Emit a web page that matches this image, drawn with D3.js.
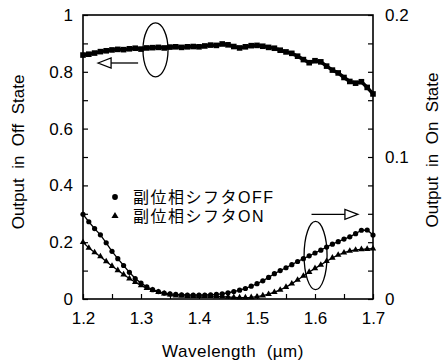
<!DOCTYPE html>
<html>
<head>
<meta charset="utf-8">
<script src="https://cdn.jsdelivr.net/npm/d3@7"></script>
<style>
  body { margin: 0; background: #fff; }
  svg { display: block; font-family: "Liberation Sans", Arial, "Noto Sans CJK JP", sans-serif; }
  text { white-space: pre; }
</style>
</head>
<body>
<svg id="chart" width="446" height="362"></svg>
<script>
// wavelength (um), one sample every 0.01
var wavelength = [1.20, 1.21, 1.22, 1.23, 1.24, 1.25, 1.26, 1.27, 1.28, 1.29,
                  1.30, 1.31, 1.32, 1.33, 1.34, 1.35, 1.36, 1.37, 1.38, 1.39,
                  1.40, 1.41, 1.42, 1.43, 1.44, 1.45, 1.46, 1.47, 1.48, 1.49,
                  1.50, 1.51, 1.52, 1.53, 1.54, 1.55, 1.56, 1.57, 1.58, 1.59,
                  1.60, 1.61, 1.62, 1.63, 1.64, 1.65, 1.66, 1.67, 1.68, 1.69, 1.70];

// output in off state (left axis)
var offState = [0.859, 0.862, 0.866, 0.871, 0.874, 0.877, 0.879, 0.878, 0.881, 0.883,
                0.880, 0.884, 0.885, 0.886, 0.884, 0.887, 0.888, 0.886, 0.888, 0.889,
                0.888, 0.891, 0.894, 0.893, 0.898, 0.895, 0.889, 0.884, 0.888, 0.892,
                0.893, 0.890, 0.886, 0.883, 0.876, 0.870, 0.865, 0.855, 0.843, 0.832,
                0.839, 0.835, 0.820, 0.806, 0.796, 0.780, 0.766, 0.760, 0.765, 0.745, 0.722];

// output in on state, shifter OFF (right axis, circles)
var onShifterOff = [0.0596, 0.0544, 0.0496, 0.0452, 0.0396, 0.0336, 0.0284, 0.0236, 0.0188, 0.0144,
                    0.0112, 0.0086, 0.0066, 0.0052, 0.0042, 0.0036, 0.0032, 0.0030, 0.0028, 0.0028,
                    0.0028, 0.0028, 0.0030, 0.0032, 0.0036, 0.0044, 0.0052, 0.0062, 0.0074, 0.0090,
                    0.0108, 0.0128, 0.0152, 0.0178, 0.0200, 0.0220, 0.0242, 0.0264, 0.0284, 0.0304,
                    0.0324, 0.0344, 0.0366, 0.0386, 0.0404, 0.0422, 0.0438, 0.0460, 0.0484, 0.0486, 0.0450];

// output in on state, shifter ON (right axis, triangles)
var onShifterOn = [0.0400, 0.0360, 0.0328, 0.0300, 0.0264, 0.0232, 0.0202, 0.0172, 0.0144, 0.0118,
                   0.0096, 0.0076, 0.0062, 0.0048, 0.0038, 0.0030, 0.0024, 0.0022, 0.0020, 0.0020,
                   0.0020, 0.0020, 0.0020, 0.0018, 0.0016, 0.0014, 0.0012, 0.0010, 0.0010, 0.0012,
                   0.0016, 0.0024, 0.0034, 0.0048, 0.0064, 0.0084, 0.0108, 0.0134, 0.0162, 0.0190,
                   0.0216, 0.0240, 0.0266, 0.0290, 0.0310, 0.0326, 0.0338, 0.0346, 0.0350, 0.0352, 0.0354];

var xTicks = [1.2, 1.25, 1.3, 1.35, 1.4, 1.45, 1.5, 1.55, 1.6, 1.65, 1.7];
var xLabels = [1.2, 1.3, 1.4, 1.5, 1.6, 1.7];
var yLeftTicks = [0, 0.1, 0.2, 0.3, 0.4, 0.5, 0.6, 0.7, 0.8, 0.9, 1];
var yLeftLabels = [0, 0.2, 0.4, 0.6, 0.8, 1];
var yRightTicks = [0, 0.02, 0.04, 0.06, 0.08, 0.1, 0.12, 0.14, 0.16, 0.18, 0.2];
var yRightLabels = [0, 0.1, 0.2];
var legendNames = ["副位相シフタOFF", "副位相シフタON"];

var svg = d3.select("#chart"),
    margin = { top: 15, right: 73, bottom: 63, left: 83 },
    width = +svg.attr("width") - margin.left - margin.right,
    height = +svg.attr("height") - margin.top - margin.bottom,
    g = svg.append("g").attr("transform", "translate(" + margin.left + "," + margin.top + ")");

var x = d3.scaleLinear().domain([1.2, 1.7]).range([0, width]);
var yL = d3.scaleLinear().domain([0, 1]).range([height, 0]);
var yR = d3.scaleLinear().domain([0, 0.2]).range([height, 0]);

function isIn(list) {
    return function (v) { return list.some(function (l) { return Math.abs(l - v) < 1e-9; }); };
}

// axes, ticks point inward
var bottom = g.append("g")
    .attr("transform", "translate(0," + height + ")")
    .call(d3.axisBottom(x).tickValues(xTicks).tickSizeInner(-5).tickSizeOuter(0).tickPadding(13)
        .tickFormat(function (d) { return isIn(xLabels)(d) ? d3.format(".1f")(d) : ""; }));

var left = g.append("g")
    .call(d3.axisLeft(yL).tickValues(yLeftTicks).tickSizeInner(-5).tickSizeOuter(0).tickPadding(10)
        .tickFormat(function (d) { return isIn(yLeftLabels)(d) ? d3.format("")(d) : ""; }));

var right = g.append("g")
    .attr("transform", "translate(" + width + ",0)")
    .call(d3.axisRight(yR).tickValues(yRightTicks).tickSizeInner(-5).tickSizeOuter(0).tickPadding(12)
        .tickFormat(function (d) { return isIn(yRightLabels)(d) ? d3.format("")(d) : ""; }));

[bottom, left, right].forEach(function (a) {
    a.select(".domain").remove();
    a.selectAll("line").attr("stroke", "#000").attr("stroke-width", 1.2);
    a.selectAll("text").attr("font-size", 17).attr("fill", "#000")
        .attr("font-family", "'Liberation Sans', Arial, sans-serif");
});

g.append("rect")
    .attr("width", width)
    .attr("height", height)
    .attr("fill", "none")
    .attr("stroke", "#000")
    .attr("stroke-width", 1.6);

// curves
var rows = wavelength.map(function (w, i) {
    return { w: w, off: offState[i], a: onShifterOff[i], b: onShifterOn[i] };
});

var lineOff = d3.line().x(function (d) { return x(d.w); }).y(function (d) { return yL(d.off); });
var lineA = d3.line().x(function (d) { return x(d.w); }).y(function (d) { return yR(d.a); });
var lineB = d3.line().x(function (d) { return x(d.w); }).y(function (d) { return yR(d.b); });

g.append("path").datum(rows).attr("d", lineOff)
    .attr("fill", "none").attr("stroke", "#000").attr("stroke-width", 3.5);
g.append("path").datum(rows).attr("d", lineA)
    .attr("fill", "none").attr("stroke", "#000").attr("stroke-width", 1.3);
g.append("path").datum(rows).attr("d", lineB)
    .attr("fill", "none").attr("stroke", "#000").attr("stroke-width", 1.3);

g.append("g").selectAll("rect")
    .data(rows)
    .enter().append("rect")
    .attr("x", function (d) { return x(d.w) - 2.8; })
    .attr("y", function (d) { return yL(d.off) - 2.8; })
    .attr("width", 5.6)
    .attr("height", 5.6)
    .attr("fill", "#000");

g.append("g").selectAll("circle")
    .data(rows)
    .enter().append("circle")
    .attr("cx", function (d) { return x(d.w); })
    .attr("cy", function (d) { return yR(d.a); })
    .attr("r", 2.6)
    .attr("fill", "#000");

var tri = d3.symbol().type(d3.symbolTriangle).size(18);
g.append("g").selectAll("path")
    .data(rows)
    .enter().append("path")
    .attr("d", tri)
    .attr("transform", function (d) { return "translate(" + x(d.w) + "," + yR(d.b) + ")"; })
    .attr("fill", "#000");

// ellipse + arrow annotations (placed in data units)
function arrow(x0, x1, yv) {
    var dir = x1 > x0 ? 1 : -1,
        px0 = x(x0), px1 = x(x1), py = yL(yv),
        back = px1 - dir * 13;
    g.append("line")
        .attr("x1", px0).attr("x2", back)
        .attr("y1", py).attr("y2", py)
        .attr("stroke", "#000").attr("stroke-width", 1.3);
    g.append("path")
        .attr("d", "M" + px1 + "," + py + "L" + back + "," + (py - 5) + "L" + back + "," + (py + 5) + "Z")
        .attr("fill", "#fff").attr("stroke", "#000").attr("stroke-width", 1.3);
}

function ellipse(w, v, rw, rv) {
    g.append("ellipse")
        .attr("cx", x(w)).attr("cy", yL(v))
        .attr("rx", x(w + rw) - x(w))
        .attr("ry", yL(v - rv) - yL(v))
        .attr("fill", "none").attr("stroke", "#000").attr("stroke-width", 1.3);
}

ellipse(1.325, 0.877, 0.0216, 0.095);
arrow(1.295, 1.226, 0.831);
ellipse(1.601, 0.153, 0.0198, 0.12);
arrow(1.594, 1.674, 0.298);

// legend
var legend = svg.append("g")
    .selectAll("g")
    .data(legendNames)
    .enter().append("g")
    .attr("transform", function (d, i) { return "translate(115," + (197 + i * 19) + ")"; });

legend.append("path")
    .attr("d", function (d, i) {
        return i === 0 ? d3.symbol().type(d3.symbolCircle).size(26)() : d3.symbol().type(d3.symbolTriangle).size(22)();
    })
    .attr("fill", "#000");

legend.append("text")
    .attr("x", 18)
    .attr("dy", "0.36em")
    .attr("font-size", 16)
    .attr("letter-spacing", 1.5)
    .attr("font-family", "'Liberation Sans', 'Noto Sans CJK JP', sans-serif")
    .text(function (d) { return d; });

// axis titles
svg.append("text")
    .attr("x", margin.left + width / 2 + 5)
    .attr("y", 357)
    .attr("text-anchor", "middle")
    .attr("font-size", 17)
    .attr("letter-spacing", 0.5)
    .text("Wavelength  (µm)");

svg.append("text")
    .attr("transform", "translate(24,152)rotate(-90)")
    .attr("text-anchor", "middle")
    .attr("font-size", 17)
    .text("Output  in  Off  State");

svg.append("text")
    .attr("transform", "translate(438,150)rotate(-90)")
    .attr("text-anchor", "middle")
    .attr("font-size", 17)
    .text("Output  in  On  State");
</script>
</body>
</html>
